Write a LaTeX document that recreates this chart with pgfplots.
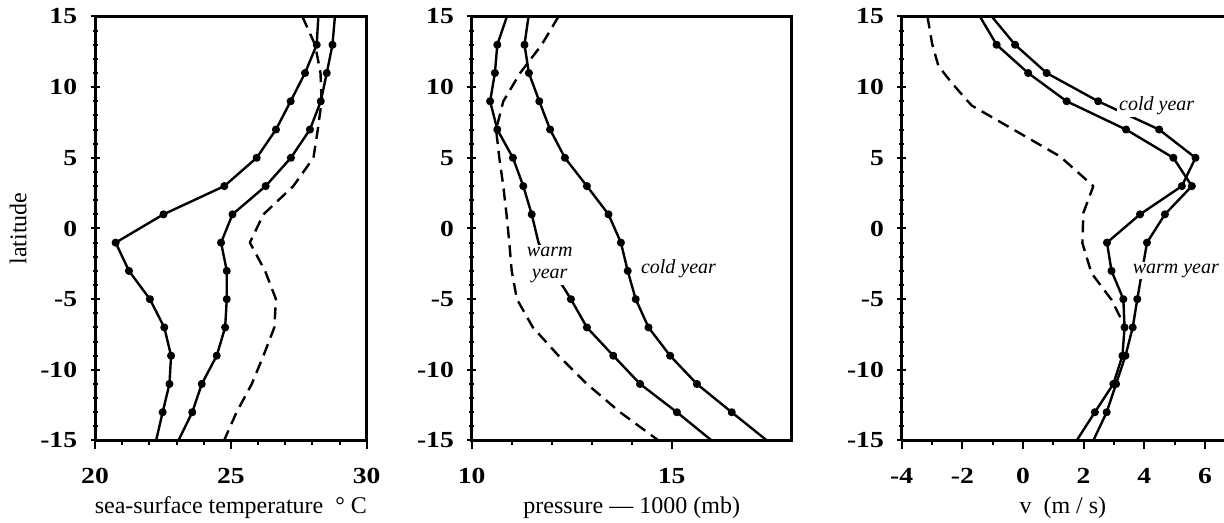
\documentclass[border=0pt]{standalone}
\usepackage{fontspec}
\setmainfont{Liberation Serif}
\newfontfamily\tickfont[FakeStretch=1.2]{Liberation Serif Bold}
\usepackage{pgfplots}
\pgfplotsset{compat=1.18}

\pgfplotsset{
  panel/.style={
    scale only axis, height=212pt, anchor=south west,
    ymin=-15, ymax=15,
    ytick={-15,-10,...,15}, yticklabels={-15,-10,-5,0,5,10,15},
    minor y tick num=4,
    xtick pos=left, ytick pos=left,
    xtick align=outside, ytick align=center,
    major tick length=4.5pt, minor tick length=2.5pt,
    tick style={black, line width=1pt},
    axis line style={line width=1.5pt},
    ticklabel style={font=\tickfont\fontsize{11.5}{13}\selectfont},
    xticklabel style={anchor=center, yshift=-13.25pt},
    yticklabel style={anchor=east, inner sep=0pt, xshift=-6.5pt},
    label style={font=\fontsize{12}{14}\selectfont},
    xlabel style={at={(axis description cs:0.5,-0.159)}, anchor=center, font=\fontsize{12}{14}\selectfont},
    every axis plot/.append style={black, line width=1.2pt, line join=round},
  },
  obs/.style={mark=*, mark size=1.4pt, mark options={solid}, mark indices={2,...,15}},
  dsh/.style={dash pattern=on 6pt off 3.5pt},
}
\tikzset{lbl/.style={font=\itshape\fontsize{10}{11}\selectfont, fill=white, inner sep=1pt, align=center}}

\begin{document}
\begin{tikzpicture}
% sea-surface temperature
\begin{axis}[panel, at={(47.5pt,41.25pt)}, width=135.85pt,
  xmin=20, xmax=30, xtick={20,25,30}, xticklabels={20,25,30}, minor x tick num=4,
  xlabel={sea-surface temperature \ ° C}, ylabel={latitude},
  ylabel style={at={(axis description cs:-0.283,0.5)}, anchor=center}]
\addplot[obs] coordinates {(28.22,15) (28.16,13) (27.73,11) (27.20,9) (26.66,7) (25.95,5) (24.76,3) (22.52,1)
  (20.76,-1) (21.25,-3) (22.02,-5) (22.55,-7) (22.80,-9) (22.74,-11) (22.49,-13) (22.25,-15)};
\addplot[obs] coordinates {(28.83,15) (28.74,13) (28.53,11) (28.31,9) (27.91,7) (27.21,5) (26.28,3) (25.06,1)
  (24.64,-1) (24.85,-3) (24.85,-5) (24.79,-7) (24.48,-9) (23.93,-11) (23.58,-13) (23.07,-15)};
\addplot[dsh] coordinates {(27.63,15) (28.10,13) (28.30,11) (28.34,9) (28.20,7) (28.04,5) (27.30,3) (26.20,1)
  (25.70,-1) (26.26,-3) (26.66,-5) (26.60,-7) (26.20,-9) (25.77,-11) (25.21,-13) (24.75,-15)};
\end{axis}
% pressure
\begin{axis}[panel, at={(235.85pt,41.25pt)}, width=160pt,
  xmin=10, xmax=18, xtick={10,15}, xticklabels={10,15}, minor x tick num=4,
  xlabel={pressure — 1000 (mb)}]
\addplot[obs, mark indices={2,3,4,5,6,7,8,11,12,13,14,15}] coordinates {(10.88,15) (10.64,13) (10.58,11) (10.46,9) (10.64,7) (11.03,5) (11.29,3) (11.50,1)
  (11.67,-1) (12.04,-3) (12.48,-5) (12.88,-7) (13.54,-9) (14.21,-11) (15.13,-13) (16.00,-15)};
\addplot[obs] coordinates {(11.42,15) (11.32,13) (11.43,11) (11.69,9) (11.96,7) (12.33,5) (12.88,3) (13.42,1)
  (13.73,-1) (13.90,-3) (14.10,-5) (14.42,-7) (14.96,-9) (15.63,-11) (16.50,-13) (17.38,-15)};
\addplot[dsh] coordinates {(12.17,15) (11.75,13) (11.21,11) (10.79,9) (10.61,7) (10.69,5) (10.79,3) (10.87,1)
  (10.94,-1) (11.00,-3) (11.13,-5) (11.53,-7) (12.17,-9) (12.88,-11) (13.71,-13) (14.67,-15)};
\node[lbl] at (axis cs:11.95,-2.6) {warm\\year};
\node[lbl] at (axis cs:15.17,-2.82) {cold year};
\end{axis}
% meridional wind
\begin{axis}[panel, at={(450.85pt,41.25pt)}, width=161.15pt,
  axis x line=box, axis y line=left, y axis line style={-},
  xlabel style={at={(axis description cs:0.5,-0.159)}, anchor=center, font=\fontsize{12}{14}\selectfont},
  xmin=-4, xmax=6.63, xtick={-4,-2,...,6}, xticklabels={-4,-2,0,2,4,6}, minor x tick num=1,
  xlabel={v \ (m / s)}]
\addplot[obs] coordinates {(-1.03,15) (-0.26,13) (0.78,11) (2.48,9) (4.49,7) (5.69,5) (5.24,3) (3.86,1)
  (2.77,-1) (2.92,-3) (3.31,-5) (3.35,-7) (3.28,-9) (2.98,-11) (2.37,-13) (1.77,-15)};
\addplot[obs, mark indices={2,3,4,5,6,7,8,9,11,12,13,14,15}] coordinates {(-1.42,15) (-0.87,13) (0.17,11) (1.44,9) (3.40,7) (4.96,5) (5.57,3) (4.68,1)
  (4.09,-1) (3.93,-3) (3.77,-5) (3.62,-7) (3.38,-9) (3.07,-11) (2.76,-13) (2.32,-15)};
\addplot[dsh] coordinates {(-3.15,15) (-3.00,13.1) (-2.79,11.5) (-2.35,10.3) (-1.86,9.1) (-1.69,8.7) (1.22,5.1)
  (2.32,3.0) (1.99,1.1) (1.96,-1.04) (2.26,-3.16) (2.92,-5.05) (3.25,-6.46) (3.33,-6.9)};
\node[lbl] at (axis cs:4.41,8.7) {cold year};
\node[lbl] at (axis cs:5.04,-2.97) {warm year};
\end{axis}
\pgfresetboundingbox
\useasboundingbox (0,0) rectangle (612pt,261.5pt);
\end{tikzpicture}
\end{document}
